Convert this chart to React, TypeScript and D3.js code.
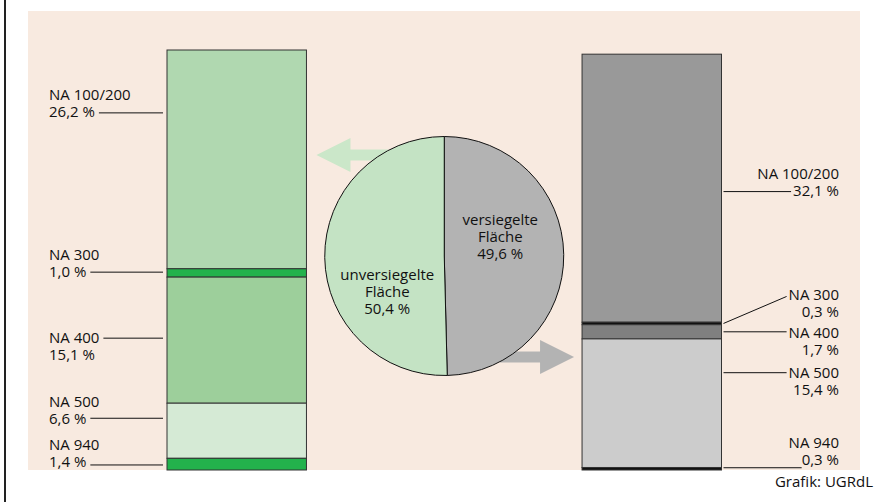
import * as d3 from "d3";

// Anteile der Nutzungsarten (NA) an der Fläche, in %
const segments = ["NA 100/200", "NA 300", "NA 400", "NA 500", "NA 940"];
const unsealedShares = [26.2, 1.0, 15.1, 6.6, 1.4];
const sealedShares = [32.1, 0.3, 1.7, 15.4, 0.3];
const unsealedLabels = ["26,2 %", "1,0 %", "15,1 %", "6,6 %", "1,4 %"];
const sealedLabels = ["32,1 %", "0,3 %", "1,7 %", "15,4 %", "0,3 %"];

const bars = ["unversiegelt", "versiegelt"];
const pieValues = [49.6, 50.4]; // versiegelt, unversiegelt
const pieText = [
  ["versiegelte", "Fläche", "49,6 %"],
  ["unversiegelte", "Fläche", "50,4 %"],
];
const credit = "Grafik: UGRdL";

const unsealedColors = ["#b0d8b0", "#23b24c", "#9dcf9b", "#d5ead5", "#23b24c"];
const sealedColors = ["#999999", "#111111", "#808080", "#cccccc", "#111111"];
const pieColors = ["#b3b3b3", "#c4e3c4"];

// label placement (leader shift from segment middle, which text line it hits)
const leftLayout = [
  { shift: -46.5, line: 2, base: 4 },
  { shift: -0.8, line: 2, base: 5 },
  { shift: -2, line: 1, base: 5 },
  { shift: -12.5, line: 2, base: 6 },
  { shift: 0.8, line: 2, base: 2 },
];
const rightLayout = [
  { shift: 3.4, rise: 0, line: 2, base: 4.3, gap: 2 },
  { shift: 0, rise: -27, line: 1, base: 4, gap: 2 },
  { shift: 0, rise: 0, line: 1, base: 6, gap: 2 },
  { shift: -30.5, rise: 0, line: 1, base: 5.3, gap: 2 },
  { shift: -1, rise: 0, line: 2, base: -3, gap: 0 },
];

const width = 874,
  height = 502,
  fontSize = 15,
  lineH = 17,
  font = '"Open Sans", sans-serif',
  ink = "#111",
  paper = "#f8eae0";

let ctx: CanvasRenderingContext2D | null = null;
function textWidth(s: string) {
  if (!ctx) ctx = document.createElement("canvas").getContext("2d");
  ctx!.font = `${fontSize}px "Open Sans"`;
  return ctx!.measureText(s).width;
}

function stackTopDown(shares: number[]) {
  const total = d3.sum(shares);
  let above = 0;
  return shares.map((v) => {
    const top = total - above;
    above += v;
    return { y0: top - v, y1: top };
  });
}

// dir = 1 points left, dir = -1 points right
function arrowPath(tipX: number, tipY: number, dir: number, len: number) {
  const head = 34,
    hh = 17,
    sh = 5.5;
  const p = [
    [0, 0],
    [head, -hh],
    [head, -sh],
    [len, -sh],
    [len, sh],
    [head, sh],
    [head, hh],
  ];
  return "M" + p.map(([a, b]) => `${tipX + dir * a},${tipY + b}`).join("L") + "Z";
}

export default function App() {
  const y = d3
    .scaleLinear()
    .domain([0, d3.max([d3.sum(unsealedShares), d3.sum(sealedShares)])!])
    .range([470, 50]);

  const x = d3.scaleBand().domain(bars).range([167, 721.5]).paddingInner(0.664);
  const bw = x.bandwidth();
  const leftX = x(bars[0])!,
    rightX = x(bars[1])!;

  const leftStack = stackTopDown(unsealedShares);
  const rightStack = stackTopDown(sealedShares);

  const cx = (leftX + bw + rightX) / 2,
    cy = 256,
    r = 119.5;
  const pie = d3.pie<number>().sort(null).value((d) => d)(pieValues);
  const arc = d3.arc<d3.PieArcDatum<number>>().innerRadius(0).outerRadius(r);
  const pieTextPos = [
    [56, -31],
    [-57, 24],
  ];

  const leftLabelX = 49,
    rightLabelX = 839;

  return (
    <svg
      width={width}
      height={height}
      style={{ position: "absolute", left: 0, top: 0, background: "#fff" }}
      fontFamily={font}
      fontSize={fontSize}
    >
      <rect x={4} y={0} width={2} height={height} fill="#222" />
      <rect x={28} y={11} width={832} height={459} fill={paper} />

      {/* arrows behind the pie */}
      <path d={arrowPath(leftX + bw + 10, cy - 101, 1, 72)} fill="#cbe7c9" />
      <path d={arrowPath(rightX - 8, cy + 101, -1, 74)} fill="#b3b3b3" />

      {/* bars */}
      <g stroke="#333" strokeWidth={1}>
        {leftStack.map((s, i) => (
          <rect
            key={"l" + i}
            x={leftX}
            y={y(s.y1)}
            width={bw}
            height={y(s.y0) - y(s.y1)}
            fill={unsealedColors[i]}
          />
        ))}
        {rightStack.map((s, i) => (
          <rect
            key={"r" + i}
            x={rightX}
            y={y(s.y1)}
            width={bw}
            height={y(s.y0) - y(s.y1)}
            fill={sealedColors[i]}
          />
        ))}
      </g>

      {/* pie */}
      <g transform={`translate(${cx},${cy})`}>
        {pie.map((p, i) => (
          <path key={i} d={arc(p)!} fill={pieColors[i]} stroke="#111" strokeWidth={1} />
        ))}
        {pieText.map((lines, i) => (
          <text key={i} textAnchor="middle" fill={ink}>
            {lines.map((t, j) => (
              <tspan key={j} x={pieTextPos[i][0]} y={pieTextPos[i][1] + j * lineH}>
                {t}
              </tspan>
            ))}
          </text>
        ))}
      </g>

      {/* left labels */}
      <g fill={ink}>
        {leftStack.map((s, i) => {
          const L = leftLayout[i];
          const mid = (y(s.y0) + y(s.y1)) / 2;
          const ly = mid + L.shift;
          const hit = ly + L.base;
          const b1 = L.line === 1 ? hit : hit - lineH;
          const txt = L.line === 1 ? segments[i] : unsealedLabels[i];
          const x1 = leftLabelX + textWidth(txt) + 4;
          return (
            <g key={i}>
              <text>
                <tspan x={leftLabelX} y={b1}>{segments[i]}</tspan>
                <tspan x={leftLabelX} y={b1 + lineH}>{unsealedLabels[i]}</tspan>
              </text>
              <line x1={x1} x2={leftX - 4} y1={ly} y2={ly} stroke={ink} strokeWidth={1} />
            </g>
          );
        })}
      </g>

      {/* right labels */}
      <g fill={ink} textAnchor="end">
        {rightStack.map((s, i) => {
          const L = rightLayout[i];
          const mid = (y(s.y0) + y(s.y1)) / 2;
          const ly = mid + L.shift;
          const ey = ly + L.rise;
          const hit = ey + L.base;
          const b1 = L.line === 1 ? hit : hit - lineH;
          const txt = L.line === 1 ? segments[i] : sealedLabels[i];
          const x2 = rightLabelX - textWidth(txt) - L.gap;
          return (
            <g key={i}>
              <text>
                <tspan x={rightLabelX} y={b1}>{segments[i]}</tspan>
                <tspan x={rightLabelX} y={b1 + lineH}>{sealedLabels[i]}</tspan>
              </text>
              <line x1={rightX + bw + 2} x2={x2} y1={ly} y2={ey} stroke={ink} strokeWidth={1} />
            </g>
          );
        })}
      </g>

      <text x={873} y={487} textAnchor="end" fill={ink}>
        {credit}
      </text>
    </svg>
  );
}
